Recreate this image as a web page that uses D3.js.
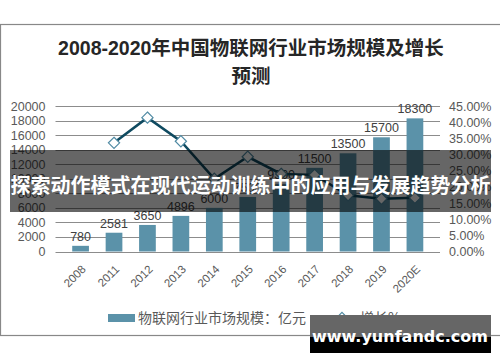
<!DOCTYPE html>
<html>
<head>
<meta charset="utf-8">
<script src="https://cdn.jsdelivr.net/npm/d3@7"></script>
<style>
  body { margin: 0; background: #fff; }
  svg text { font-family: "Liberation Sans", Arial, "Noto Sans CJK SC", sans-serif; }
</style>
</head>
<body>
<div id="chart"></div>
<script>
var years = ["2008", "2011", "2012", "2013", "2014", "2015", "2016", "2017", "2018", "2019", "2020E"];
var marketSize = [780, 2581, 3650, 4896, 6000, 7500, 9300, 11500, 13500, 15700, 18300];
var growth = [null, 33.6, 41.4, 34.1, 22.5, 29.3, 24.0, 23.7, 17.4, 16.3, 16.6];
var leftTicks = [0, 2000, 4000, 6000, 8000, 10000, 12000, 14000, 16000, 18000, 20000];
var rightTicks = [0, 5, 10, 15, 20, 25, 30, 35, 40, 45];

(function () {
    var width = 500, height = 362;
    var svg = d3.select("#chart").append("svg")
        .attr("width", width)
        .attr("height", height);

    // outer frame
    svg.append("rect")
        .attr("x", 0.5).attr("y", 24.5)
        .attr("width", 510).attr("height", 311)
        .attr("fill", "#fff").attr("stroke", "#888").attr("stroke-width", 1.2);

    svg.append("text").attr("x", 251).attr("y", 55)
        .attr("text-anchor", "middle").attr("font-size", 19.5).attr("font-weight", "bold")
        .attr("fill", "#262626").style("font-family", "'Liberation Sans', 'Noto Sans CJK SC', sans-serif")
        .text("2008-2020年中国物联网行业市场规模及增长");
    svg.append("text").attr("x", 251).attr("y", 83)
        .attr("text-anchor", "middle").attr("font-size", 19.5).attr("font-weight", "bold")
        .attr("fill", "#262626").style("font-family", "'Noto Sans CJK SC', sans-serif")
        .text("预测");

    var left = 55.5, right = 440, top = 106, bottom = 251.5;
    var x = d3.scaleBand().domain(years).range([left, right]).padding(0.5);
    var y = d3.scaleLinear().domain([0, 20000]).range([bottom, top]);
    var y2 = d3.scaleLinear().domain([0, 45]).range([bottom, top]);

    var g = svg.append("g");

    // gridlines
    g.selectAll(".grid").data(leftTicks).enter().append("line")
        .attr("x1", left).attr("x2", right)
        .attr("y1", function (d) { return Math.round(y(d)) + 0.5; })
        .attr("y2", function (d) { return Math.round(y(d)) + 0.5; })
        .attr("stroke", "#8c8c8c").attr("stroke-width", 1);

    // left axis labels
    var leftAxis = g.append("g").attr("transform", "translate(" + (left - 2) + ",0)")
        .call(d3.axisLeft(y).tickValues(leftTicks).tickSize(0).tickPadding(8).tickFormat(d3.format("d")));
    leftAxis.select(".domain").remove();
    leftAxis.selectAll("text").attr("font-size", 12.5).attr("fill", "#595959")
        .style("font-family", "'Liberation Sans', Arial, sans-serif");

    // right axis labels
    var rightAxis = g.append("g").attr("transform", "translate(" + (right + 2) + ",0)")
        .call(d3.axisRight(y2).tickValues(rightTicks).tickSize(0).tickPadding(7)
            .tickFormat(function (d) { return d.toFixed(2) + "%"; }));
    rightAxis.select(".domain").remove();
    rightAxis.selectAll("text").attr("font-size", 12.5).attr("fill", "#595959")
        .style("font-family", "'Liberation Sans', Arial, sans-serif");

    // bars
    var barColor = "#5b92a9";
    g.selectAll(".bar").data(marketSize).enter().append("rect")
        .attr("x", function (d, i) { return x(years[i]); })
        .attr("y", function (d) { return y(d); })
        .attr("width", x.bandwidth())
        .attr("height", function (d) { return bottom - y(d); })
        .attr("fill", barColor);

    g.selectAll(".barlabel").data(marketSize).enter().append("text")
        .attr("x", function (d, i) { return x(years[i]) + x.bandwidth() / 2; })
        .attr("y", function (d) { return y(d) - 5; })
        .attr("text-anchor", "middle").attr("font-size", 12.5).attr("fill", "#404040")
        .text(function (d) { return d; });

    // x labels
    g.selectAll(".xlabel").data(years).enter().append("text")
        .attr("transform", function (d) {
            return "translate(" + (x(d) + x.bandwidth() / 2 + 6) + "," + 270 + ") rotate(-45)";
        })
        .attr("text-anchor", "end").attr("font-size", 11.5).attr("fill", "#595959")
        .text(function (d) { return d; });

    // growth line
    var pts = years.map(function (d, i) { return { year: d, v: growth[i] }; })
        .filter(function (d) { return d.v !== null; });
    var line = d3.line()
        .x(function (d) { return x(d.year) + x.bandwidth() / 2; })
        .y(function (d) { return y2(d.v); });
    g.append("path").datum(pts).attr("d", line)
        .attr("fill", "none").attr("stroke", "#0f4a60").attr("stroke-width", 2.5);

    var diamond = d3.symbol().type(d3.symbolDiamond2).size(80);
    g.selectAll(".mark").data(pts).enter().append("path")
        .attr("d", diamond)
        .attr("transform", function (d) {
            return "translate(" + (x(d.year) + x.bandwidth() / 2) + "," + y2(d.v) + ")";
        })
        .attr("fill", "#fff").attr("stroke", "#4f8aa3").attr("stroke-width", 1.2);

    // legend
    svg.append("rect").attr("x", 108).attr("y", 314).attr("width", 27).attr("height", 8).attr("fill", barColor);
    svg.append("text").attr("x", 138).attr("y", 323).attr("font-size", 14).attr("fill", "#595959")
        .style("font-family", "'Noto Sans CJK SC', sans-serif")
        .text("物联网行业市场规模：亿元");
    svg.append("line").attr("x1", 328).attr("x2", 357).attr("y1", 318).attr("y2", 318)
        .attr("stroke", "#0f4a60").attr("stroke-width", 2.5);
    svg.append("path").attr("d", diamond).attr("transform", "translate(342,318)")
        .attr("fill", "#fff").attr("stroke", "#4f8aa3").attr("stroke-width", 1.2);
    svg.append("text").attr("x", 360).attr("y", 323).attr("font-size", 14).attr("fill", "#595959")
        .style("font-family", "'Noto Sans CJK SC', sans-serif")
        .text("增长%");

    // overlay banner
    svg.append("rect").attr("x", 10).attr("y", 150).attr("width", 481).attr("height", 62)
        .attr("fill", "rgba(0,0,0,0.6)");
    svg.append("text").attr("x", 250.5).attr("y", 193).attr("text-anchor", "middle")
        .attr("font-size", 20).attr("font-weight", "bold").attr("fill", "#fff")
        .style("font-family", "'Noto Sans CJK SC', sans-serif")
        .text("探索动作模式在现代运动训练中的应用与发展趋势分析");

    // watermark
    svg.append("rect").attr("x", 310).attr("y", 315).attr("width", 181).attr("height", 22).attr("fill", "#666");
    svg.append("rect").attr("x", 310).attr("y", 337).attr("width", 181).attr("height", 16).attr("fill", "#000");
    svg.append("text").attr("x", 400).attr("y", 342).attr("text-anchor", "middle")
        .attr("font-size", 16).attr("font-weight", "bold").attr("fill", "#fff")
        .style("font-family", "'DejaVu Sans', sans-serif")
        .text("www.yunfandc.com");
})();
</script>
</body>
</html>
